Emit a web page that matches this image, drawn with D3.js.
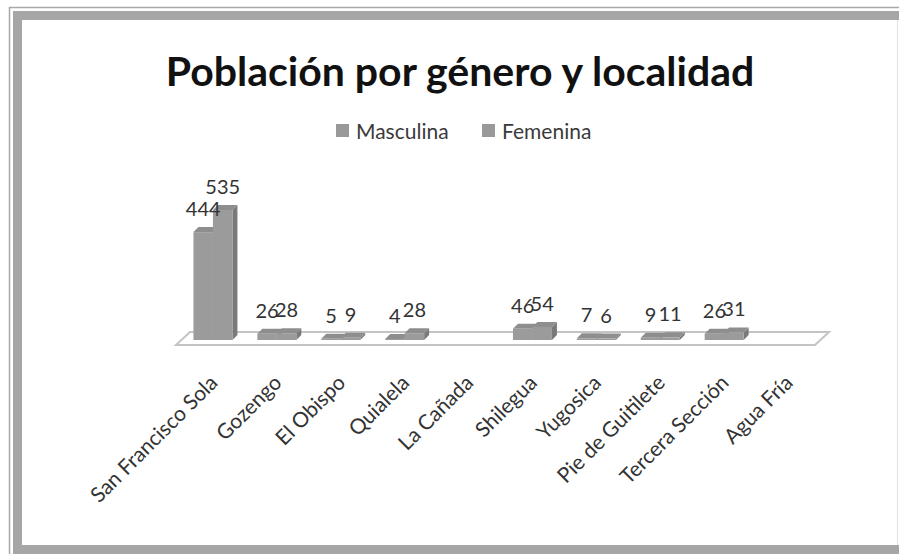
<!DOCTYPE html>
<html>
<head>
<meta charset="utf-8">
<script src="https://cdn.jsdelivr.net/npm/d3@7"></script>
<style>
  body { margin: 0; background: #fff; }
  svg text { font-family: Lato, "Open Sans", sans-serif; }
</style>
</head>
<body>
<div class="mainContainer"></div>
<script>
// chart values
var localidades = ['San Francisco Sola', 'Gozengo', 'El Obispo', 'Quialela', 'La Cañada',
  'Shilegua', 'Yugosica', 'Pie de Guitilete', 'Tercera Sección', 'Agua Fría'];
var masculina = [444, 26, 5, 4, null, 46, 7, 9, 26, null];
var femenina = [535, 28, 9, 28, null, 54, 6, 11, 31, null];
var series = ['Masculina', 'Femenina'];

var W = 899, H = 554;
var svg = d3.select('.mainContainer').append('svg').attr('width', W).attr('height', H);

// frame (grey double border, like the spreadsheet chart box)
svg.append('rect').attr('x', 9.5).attr('y', 7.5).attr('width', W).attr('height', H).style('fill', 'none').style('stroke', '#a8a8a8').style('stroke-width', 1.5);
svg.append('rect').attr('x', 13).attr('y', 11).attr('width', 9).attr('height', H).style('fill', '#a6a6a6');
svg.append('rect').attr('x', 13).attr('y', 11).attr('width', W).attr('height', 9).style('fill', '#a6a6a6');
svg.append('rect').attr('x', 13).attr('y', 545).attr('width', W).attr('height', 9).style('fill', '#a6a6a6');
svg.append('line').attr('x1', 897.5).attr('x2', 897.5).attr('y1', 20).attr('y2', 545).style('stroke', '#e2e2e2');

// title + legend
svg.append('text').attr('x', 460).attr('y', 86).attr('text-anchor', 'middle')
  .style('font-size', '41px').style('font-weight', 'bold').style('fill', '#111')
  .text('Población por género y localidad');

var legX = [336, 482];
series.forEach(function(s, i) {
  svg.append('rect').attr('x', legX[i]).attr('y', 124).attr('width', 13).attr('height', 13).style('fill', '#999');
  svg.append('text').attr('x', legX[i] + 20).attr('y', 139).style('font-size', '21px').style('fill', '#3a3a3a').text(s);
});

// scales
var base = 340, depth = 5;
var x = d3.scaleBand().domain(localidades).range([181, 820]);
var x1 = d3.scaleBand().domain(series).range([0, x.bandwidth()]).paddingInner(0).paddingOuter(0.64);
var y = d3.scaleLinear().domain([0, 535]).range([base, 210]);

// floor
var fl = x.range()[0] - 5, fr = x.range()[1] - 5;
svg.append('path')
  .attr('d', 'M' + fl + ',345 L' + fr + ',345 L' + (fr + 14) + ',332 L' + (fl + 14) + ',332 Z')
  .style('fill', 'none').style('stroke', '#c4c4c4').style('stroke-width', 2);

// 3d bars
var rows = localidades.map(function(c, i) { return { cat: c, vals: [masculina[i], femenina[i]] }; });
rows.forEach(function(r) {
  var g = svg.append('g');
  r.vals.forEach(function(v, j) {
    if (v == null) return;
    var bx = x(r.cat) + x1(series[j]), bw = x1.bandwidth(), ty = y(v);
    g.append('path').attr('d', 'M' + (bx + bw) + ',' + ty + ' l' + depth + ',' + (-depth) + ' L' + (bx + bw + depth) + ',' + (base - depth) + ' L' + (bx + bw) + ',' + base + 'Z')
      .style('fill', '#7a7a7a');
    g.append('path').attr('d', 'M' + bx + ',' + ty + ' l' + depth + ',' + (-depth) + ' l' + bw + ',0 l' + (-depth) + ',' + depth + 'Z')
      .style('fill', '#8e8e8e');
    g.append('rect').attr('x', bx).attr('y', ty).attr('width', bw).attr('height', base - ty).style('fill', '#9b9b9b');
  });
  r.vals.forEach(function(v, j) {
    if (v == null) return;
    svg.append('text').attr('x', x(r.cat) + x1(series[j]) + x1.bandwidth() / 2).attr('y', y(v) - 16)
      .attr('text-anchor', 'middle').style('font-size', '20px').style('fill', '#333').text(v);
  });
});

// category labels
localidades.forEach(function(c) {
  var cx = x(c) + x.bandwidth() / 2 + 6;
  svg.append('text').attr('transform', 'translate(' + cx + ',384) rotate(-45)')
    .attr('text-anchor', 'end').style('font-size', '21px').style('fill', '#333').text(c);
});
</script>
</body>
</html>
